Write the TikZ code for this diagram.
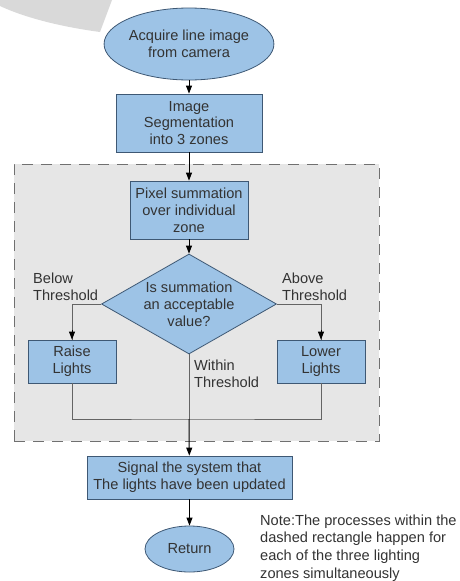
\documentclass[tikz,border=0pt]{standalone}
\usepackage{fontspec}
\setmainfont{Liberation Sans}
\usetikzlibrary{arrows.meta,shapes.geometric}
\definecolor{boxblue}{RGB}{157,195,230}
\definecolor{edgeblue}{RGB}{62,88,116}
\definecolor{zonegray}{RGB}{230,230,230}
\definecolor{dashgray}{RGB}{112,112,112}
\definecolor{txtgray}{RGB}{51,51,51}
\definecolor{linegray}{RGB}{100,100,100}
\definecolor{blobgray}{RGB}{217,217,217}

\begin{document}
\begin{tikzpicture}[x=1pt,y=-1pt,>={Triangle[length=8pt,width=6pt]},
          font=\fontsize{14.6}{16.8}\selectfont,text=txtgray,
          bx/.style={draw=edgeblue,fill=boxblue,align=center,inner sep=0pt,line width=0.8pt},
          ov/.style={bx,ellipse},
          lbl/.style={align=left,inner sep=0pt,anchor=west},
          zone/.style={draw=dashgray,fill=zonegray,line width=1pt,dash pattern=on 11pt off 8pt,inner sep=0pt},
          arw/.style={->,black,line width=1pt},
          lnk/.style={linegray,line width=0.9pt}]
        \useasboundingbox (0,0) rectangle (459,581);
        \fill[blobgray] (0,0) -- (112,0) -- (100,32) .. controls (70,28) and (30,20) .. (0,6) -- cycle;
        \node[zone,minimum width=365pt,minimum height=277pt] (grp) at (196.5,302.5) {};
        \node[ov,minimum width=146pt,minimum height=72pt] (acq) at (189,44) {Acquire line image\\from camera};
        \node[bx,minimum width=146pt,minimum height=58pt] (seg) at (189,123) {Image\\Segmentation\\into 3 zones};
        \node[bx,minimum width=118pt,minimum height=58pt] (pix) at (189,210) {Pixel summation\\over individual\\zone};
        \node[bx,diamond,aspect=1.75,minimum width=175pt,minimum height=100pt] (dec) at (189,304) {Is summation\\an acceptable\\value?};
        \node[bx,minimum width=88pt,minimum height=43pt] (raise) at (72,361.5) {Raise\\Lights};
        \node[bx,minimum width=88pt,minimum height=43pt] (lower) at (321,361.5) {Lower\\Lights};
        \node[bx,minimum width=205pt,minimum height=43pt] (sig) at (189.5,477.5) {Signal the system that\\The lights have been updated};
        \node[ov,minimum width=89pt,minimum height=46pt] (ret) at (189.5,549) {Return};
        \coordinate (mrg) at (189,419);
        \node[lbl] (below) at (33,287) {Below\\Threshold};
        \node[lbl] (above) at (282,287) {Above\\Threshold};
        \node[lbl] (within) at (194,373.5) {Within\\Threshold};
        \node[lbl,font=\fontsize{14.6}{17.6}\selectfont] (note) at (260,548) {Note:The processes within the\\dashed rectangle happen for\\each of the three lighting\\zones simultaneously};
        \draw[arw] (acq) -- (seg);
        \draw[arw] (seg) -- (pix);
        \draw[arw] (pix) -- (dec);
        \draw[lnk] (dec.west) -| (raise.north);
        \draw[arw] ([yshift=10pt]raise.north) -- (raise.north);
        \draw[lnk] (dec.east) -| (lower.north);
        \draw[arw] ([yshift=10pt]lower.north) -- (lower.north);
        \draw[lnk] (raise.south) |- (mrg) -| (lower.south);
        \draw[lnk] (dec.south) -- (mrg);
        \draw[arw] (mrg) -- (sig);
        \draw[arw] (sig) -- (ret);
      \end{tikzpicture}
\end{document}
